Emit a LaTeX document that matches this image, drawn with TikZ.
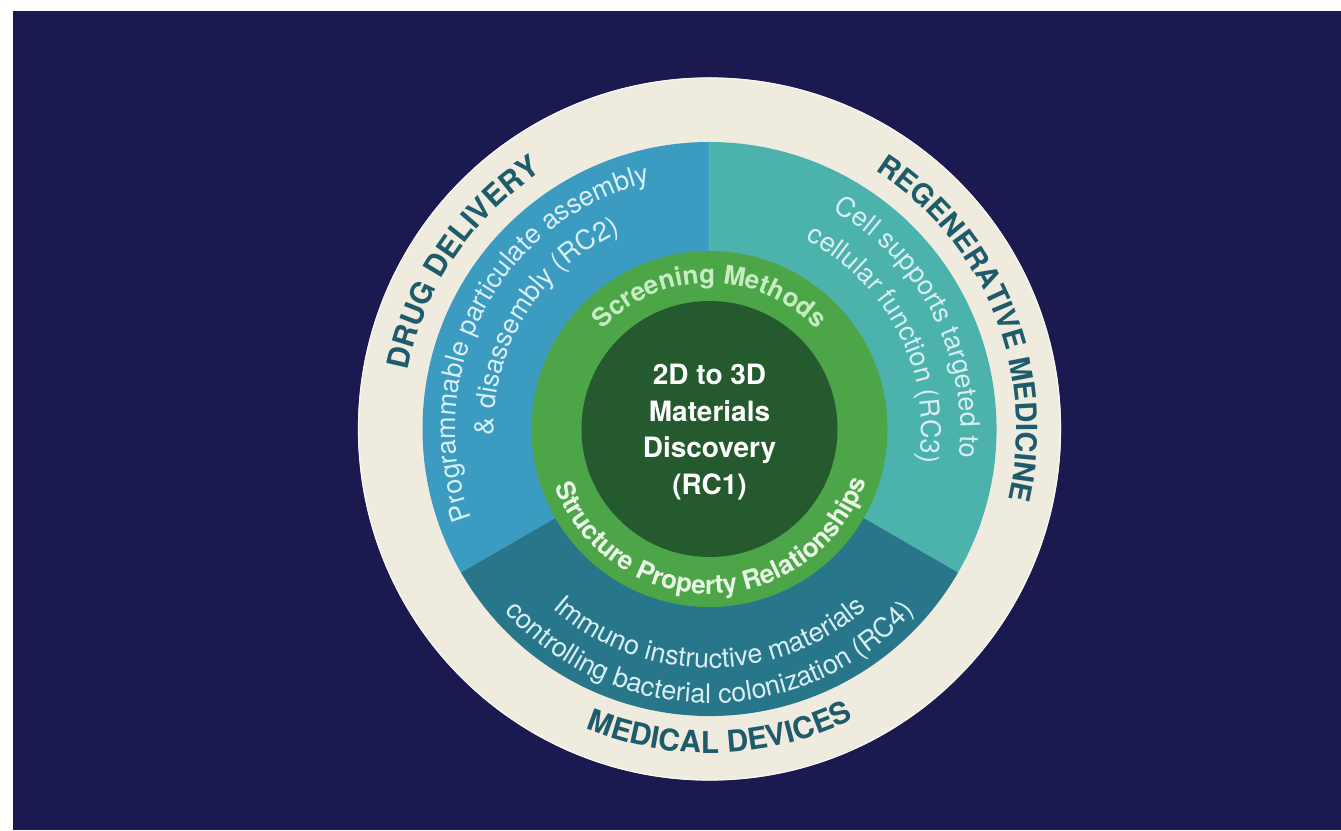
\documentclass[tikz,border=0pt]{standalone}
\usepackage{fontspec}
\setmainfont{TeX Gyre Heros}
\usetikzlibrary{decorations.text}

\definecolor{navy}{HTML}{1B1A50}
\definecolor{cream}{HTML}{EFEBDE}
\definecolor{drugblue}{HTML}{3B9BC1}
\definecolor{regenteal}{HTML}{4CB2AC}
\definecolor{medteal}{HTML}{28768A}
\definecolor{ringgreen}{HTML}{4CA648}
\definecolor{coregreen}{HTML}{245A2E}
\definecolor{labelcol}{HTML}{1E5C6C}
\definecolor{ringtxt}{HTML}{D6EEF4}
\definecolor{screentxt}{HTML}{C6EDC2}
\definecolor{structtxt}{HTML}{EAF6E6}

% text set along a circular arc around the origin of the current scope
% #1 radius, #2 start angle, #3 end angle, #4 format, #5 text
\newcommand{\ringtext}[5]{%
  \path[decorate,decoration={text along path,text align=center,
    text={|#4|#5}}]
    (#2:#1) arc[start angle=#2,end angle=#3,radius=#1];}

\begin{document}
\begin{tikzpicture}[x=1pt,y=1pt,
  core/.style={align=center,text=white,font=\fontsize{28}{36.5}\selectfont\bfseries}]
\useasboundingbox (0,0) rectangle (1341,830);
\fill[white] (0,0) rectangle (1341,830);
\fill[navy] (13,0) rectangle (1341,819);

\begin{scope}[shift={(709.5,401)}]
  % rings and sectors
  \fill[cream] (0,0) circle (351.5);
  \draw[white!60!cream,line width=1.2pt] (0,0) circle (351);
  \fill[drugblue] (0,0) -- (90:287) arc[start angle=90,end angle=210,radius=287] -- cycle;
  \fill[regenteal] (0,0) -- (-30:287) arc[start angle=-30,end angle=90,radius=287] -- cycle;
  \fill[medteal] (0,0) -- (210:287) arc[start angle=210,end angle=330,radius=287] -- cycle;
  \fill[ringgreen] (0,0) circle (178);
  \fill[coregreen] (0,0) circle (128);

  % outer labels
  \ringtext{307}{186}{106}{\fontsize{30}{30}\selectfont\bfseries\color{labelcol}}{DRUG DELIVERY}
  \ringtext{307}{77}{-33}{\fontsize{29}{29}\selectfont\bfseries\color{labelcol}}{REGENERATIVE MEDICINE}
  \ringtext{324}{232}{312}{\fontsize{30}{30}\selectfont\bfseries\color{labelcol}}{MEDICAL DEVICES}

  % research themes
  \ringtext{254}{222}{82}{\fontsize{27}{27}\selectfont\color{ringtxt}}{Programmable particulate assembly}
  \ringtext{216}{208}{88}{\fontsize{27}{27}\selectfont\color{ringtxt}}{{\&} disassembly (RC2)}
  \ringtext{251}{87}{-33}{\fontsize{27}{27}\selectfont\color{ringtxt}}{Cell supports targeted to}
  \ringtext{212}{87}{-33}{\fontsize{27}{27}\selectfont\color{ringtxt}}{cellular function (RC3)}
  \ringtext{239}{200}{340}{\fontsize{27}{27}\selectfont\color{ringtxt}}{Immuno instructive materials}
  \ringtext{274}{200}{340}{\fontsize{27}{27}\selectfont\color{ringtxt}}{controlling bacterial colonization (RC4)}

  % green ring
  \ringtext{146}{150}{30}{\fontsize{26}{26}\selectfont\bfseries\color{screentxt}}{Screening Methods}
  \ringtext{165}{186}{356}{\fontsize{26}{26}\selectfont\bfseries\color{structtxt}}{Structure Property Relationships}

  \node[core] (rc1) at (0,-3) {2D to 3D\\Materials\\Discovery\\(RC1)};
\end{scope}
\end{tikzpicture}
\end{document}
